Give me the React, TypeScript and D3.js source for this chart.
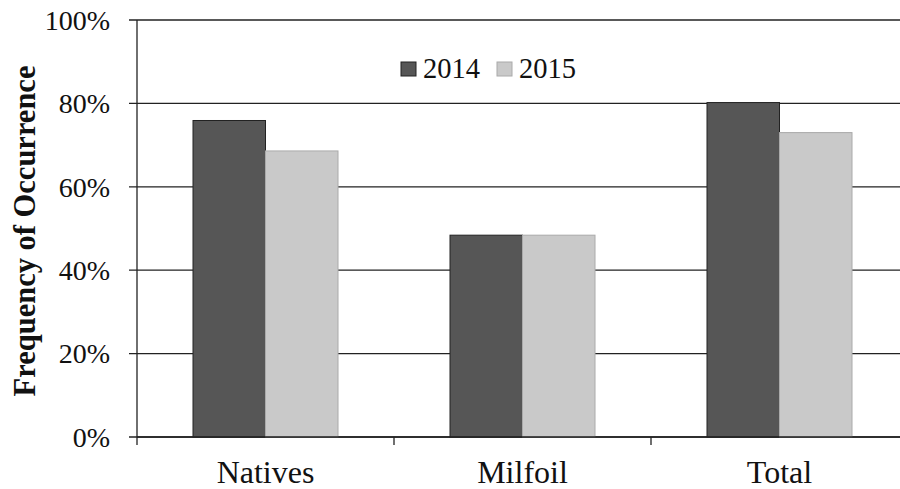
import React from "react";
import * as d3 from "d3";

const categories = ["Natives", "Milfoil", "Total"];
const seriesNames = ["2014", "2015"];
const values2014 = [0.759, 0.484, 0.802];
const values2015 = [0.686, 0.484, 0.73];
const yTicks = [0, 0.2, 0.4, 0.6, 0.8, 1.0];

const W = 900, H = 489;
const M = { left: 137, right: 908, top: 20, bottom: 437 };

export default function App() {
  const x = d3.scaleBand<string>().domain(categories).range([M.left, M.right]).paddingInner(0).paddingOuter(0);
  const inner = d3.scaleBand<string>().domain(seriesNames).range([0, 145]);
  const y = d3.scaleLinear().domain([0, 1]).range([M.bottom, M.top]);
  const fmt = d3.format(".0%");
  const colors = ["#565656", "#c9c9c9"];
  const strokes = ["#222", "#aaa"];
  const series = [values2014, values2015];
  const font = "'Liberation Serif', 'Times New Roman', serif";
  return (
    <svg width={W} height={H} style={{ position: "absolute", left: 0, top: 0, background: "#fff" }} fontFamily={font}>
      {yTicks.map((t) => (
        <g key={t}>
          <line x1={M.left - 8} x2={W} y1={y(t)} y2={y(t)} stroke="#222" strokeWidth={1.3} />
          <text x={110} y={y(t)} dy="0.35em" textAnchor="end" fontSize={28} fill="#111">{fmt(t)}</text>
        </g>
      ))}
      <line x1={M.left} x2={M.left} y1={M.top} y2={M.bottom + 8} stroke="#222" strokeWidth={1.3} />
      {categories.map((c, i) => (
        <g key={c}>
          <line x1={x(c)! + x.bandwidth()} x2={x(c)! + x.bandwidth()} y1={M.bottom} y2={M.bottom + 8} stroke="#222" strokeWidth={1.3} />
          {series.map((s, j) => {
            const bx = x(c)! + (x.bandwidth() - 145) / 2 + inner(seriesNames[j])!;
            return (
              <rect key={j} x={bx} y={y(s[i])} width={inner.bandwidth()} height={M.bottom - y(s[i])}
                fill={colors[j]} stroke={strokes[j]} strokeWidth={1} />
            );
          })}
          <text x={x(c)! + x.bandwidth() / 2} y={483} textAnchor="middle" fontSize={32} fill="#111">{c}</text>
        </g>
      ))}
      <line x1={M.left} x2={W} y1={M.bottom} y2={M.bottom} stroke="#222" strokeWidth={1.3} />
      {seriesNames.map((n, j) => {
        const lx = 401 + j * 96;
        return (
          <g key={n}>
            <rect x={lx} y={62} width={15} height={14} fill={colors[j]} stroke={strokes[j]} strokeWidth={1} />
            <text x={lx + 22} y={78} fontSize={28.5} fill="#111">{n}</text>
          </g>
        );
      })}
      <text transform={`translate(35, 231) rotate(-90)`} textAnchor="middle" fontSize={30.5} fontWeight="bold" fill="#111">
        Frequency of Occurrence
      </text>
    </svg>
  );
}
